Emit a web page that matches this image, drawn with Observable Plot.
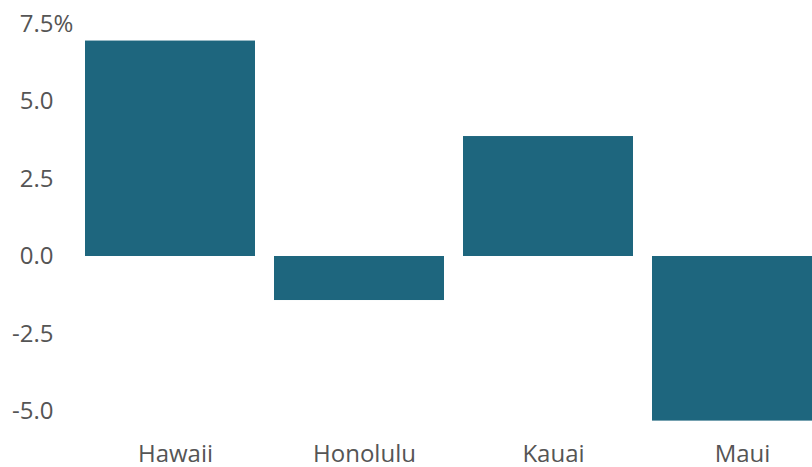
<!DOCTYPE html>
<html>
<head>
<meta charset="utf-8">
<script src="https://cdn.jsdelivr.net/npm/d3@7"></script>
<script src="https://cdn.jsdelivr.net/npm/@observablehq/plot@0.6"></script>
<style>
  html, body { margin: 0; padding: 0; background: #fff; overflow: hidden; }
  #chart svg { overflow: visible; }
</style>
</head>
<body>
<div id="chart"></div>
<script>
const counties = ["Hawaii", "Honolulu", "Kauai", "Maui"];
const changes = [6.95, -1.42, 3.87, -5.31];
const yTicks = [-5, -2.5, 0, 2.5, 5, 7.5];

const data = counties.map((c, i) => ({county: c, value: changes[i]}));
const fmt = d3.format(".1f");
const textColor = "#555555";

const chart = Plot.plot({
  width: 812,
  height: 467,
  marginLeft: 65,
  marginRight: 0,
  marginTop: 23.5,
  marginBottom: 40.5,
  style: {fontFamily: "'Open Sans', sans-serif", fontSize: "24px", color: textColor, background: "#fff"},
  x: {domain: counties, range: [64.7, 842], paddingInner: 0.1, paddingOuter: 0.1, label: null},
  y: {domain: [-5.5, 7.5], range: [426.5, 23.5], label: null},
  marks: [
    Plot.barY(data, {x: "county", y: "value", fill: "#1e667e"}),
    Plot.axisY({ticks: yTicks, tickSize: 0, tickPadding: 12, tickFormat: d => fmt(d).replace("−", "-"), label: null, fill: textColor}),
    Plot.text([7.5], {y: d => d, text: () => "%", frameAnchor: "left", textAnchor: "start", dx: -12, fill: textColor, fontSize: 24}),
    Plot.axisX({tickSize: 0, tickPadding: 18, dx: 5, label: null, fill: textColor})
  ]
});
document.getElementById("chart").appendChild(chart);
</script>
</body>
</html>
